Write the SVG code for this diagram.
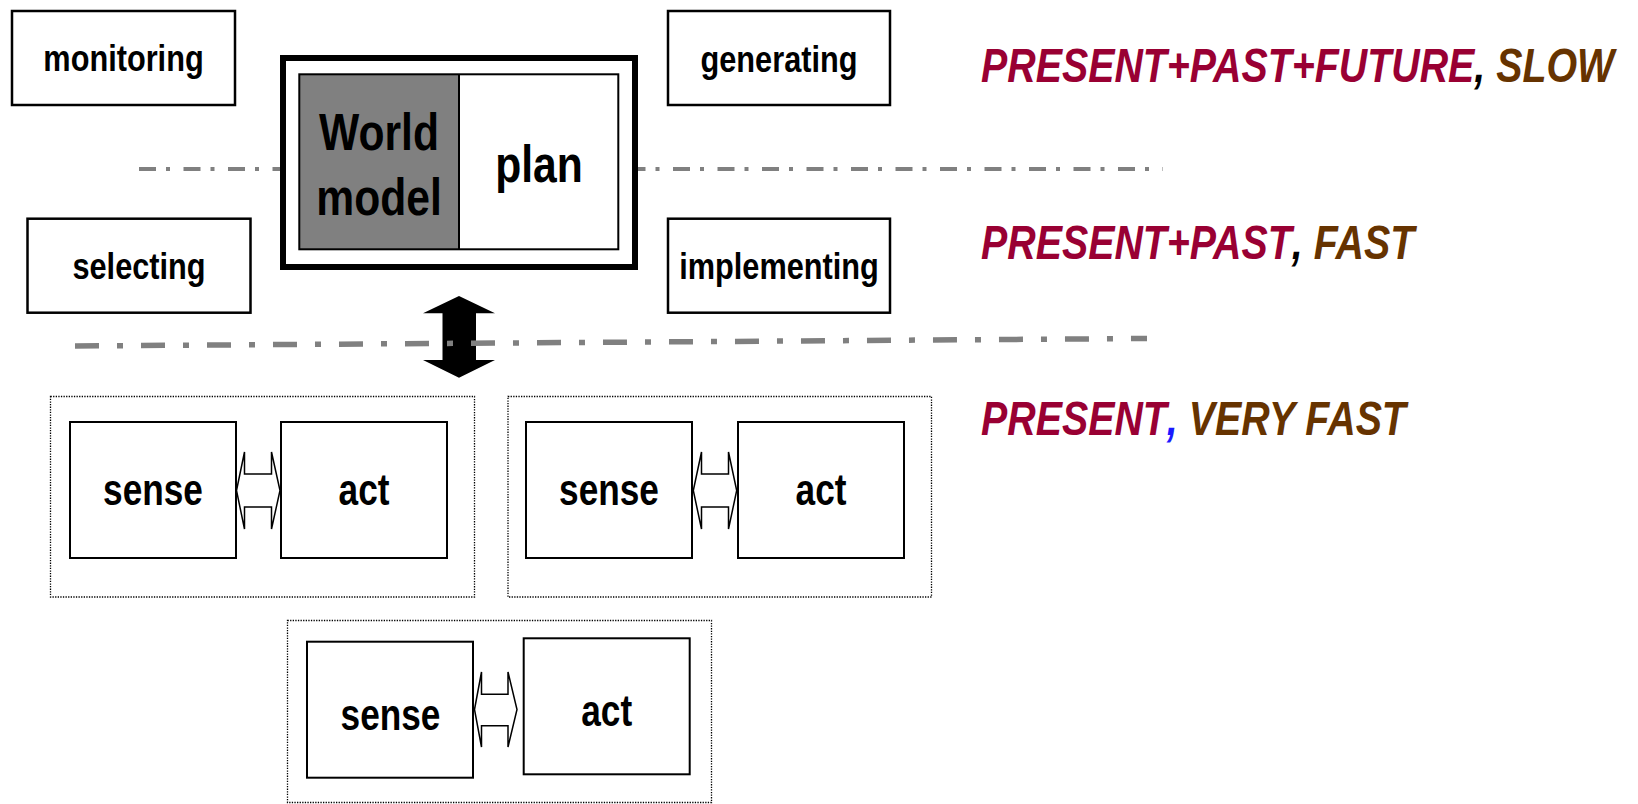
<svg xmlns="http://www.w3.org/2000/svg" width="1638" height="804" viewBox="0 0 1638 804">
  <style>
    .box { fill: #ffffff; stroke: #000000; stroke-width: 2.5; }
    .cell { fill: #ffffff; stroke: #000000; stroke-width: 2; }
    .group { fill: none; stroke: #000000; stroke-width: 1.3; stroke-dasharray: 1.3 1.3; }
    .sep1 { fill: none; stroke: #808080; stroke-width: 4; stroke-dasharray: 17 10 4 13.5; }
    .sep2 { fill: none; stroke: #808080; stroke-width: 5.5; stroke-dasharray: 24 18 6 18; }
    .hollow { fill: #ffffff; stroke: #000000; stroke-width: 1.5; stroke-linejoin: miter; }
    .lbl { font-family: "Liberation Sans", Arial, sans-serif; font-weight: bold; font-size: 37px; text-anchor: middle; fill: #000000; }
    .big { font-family: "Liberation Sans", Arial, sans-serif; font-weight: bold; font-size: 52px; text-anchor: middle; fill: #000000; }
    .sa { font-family: "Liberation Sans", Arial, sans-serif; font-weight: bold; font-size: 44px; text-anchor: middle; fill: #000000; }
    .tier { font-family: "Liberation Sans", Arial, sans-serif; font-weight: bold; font-style: italic; font-size: 48px; }
    .when { fill: #990033; }
    .speed { fill: #663300; }
  </style>

  <!-- upper separator, passes behind the world-model block -->
  <g id="separators-upper">
    <line class="sep1" x1="139" y1="169" x2="1163" y2="169"/>
  </g>

  <!-- deliberative layer -->
  <g id="node-monitoring">
    <rect class="box" x="12" y="11" width="223" height="94"/>
    <text class="lbl" transform="translate(123.5,71) scale(0.83,1)">monitoring</text>
  </g>
  <g id="node-generating">
    <rect class="box" x="668" y="11" width="222" height="94"/>
    <text class="lbl" transform="translate(779,71.5) scale(0.83,1)">generating</text>
  </g>
  <g id="node-selecting">
    <rect class="box" x="27.5" y="218.7" width="223" height="94"/>
    <text class="lbl" transform="translate(139,279) scale(0.83,1)">selecting</text>
  </g>
  <g id="node-implementing">
    <rect class="box" x="668" y="218.7" width="222" height="94"/>
    <text class="lbl" transform="translate(779,279) scale(0.83,1)">implementing</text>
  </g>

  <g id="node-world">
    <rect x="283" y="58" width="352" height="209" fill="#ffffff" stroke="#000000" stroke-width="6"/>
    <rect x="299.3" y="74.3" width="159.7" height="175" fill="#808080"/>
    <rect x="299.3" y="74.3" width="319" height="175" fill="none" stroke="#000000" stroke-width="2"/>
    <line x1="459" y1="74.3" x2="459" y2="249.3" stroke="#000000" stroke-width="2"/>
    <text class="big" transform="translate(379,150) scale(0.82,1)">World</text>
    <text class="big" transform="translate(379,214.5) scale(0.82,1)">model</text>
    <text class="big" transform="translate(539,181.5) scale(0.82,1)">plan</text>
  </g>

  <!-- reactive layer: sense/act pairs -->
  <g id="node-pair-1">
    <rect class="group" x="50.5" y="396.5" width="424" height="200.5"/>
    <rect class="cell" x="70" y="422" width="166" height="136"/>
    <rect class="cell" x="281" y="422" width="166" height="136"/>
    <text class="sa" transform="translate(153,505) scale(0.8,1)">sense</text>
    <text class="sa" transform="translate(364,505) scale(0.8,1)">act</text>
  </g>
  <g id="node-pair-2">
    <rect class="group" x="508" y="396.5" width="423.5" height="200.5"/>
    <rect class="cell" x="526" y="422" width="166" height="136"/>
    <rect class="cell" x="738" y="422" width="166" height="136"/>
    <text class="sa" transform="translate(609,505) scale(0.8,1)">sense</text>
    <text class="sa" transform="translate(821,505) scale(0.8,1)">act</text>
  </g>
  <g id="node-pair-3">
    <rect class="group" x="287.5" y="620.5" width="424" height="182"/>
    <rect class="cell" x="307" y="641.7" width="166" height="136"/>
    <rect class="cell" x="523.7" y="638.3" width="166" height="136"/>
    <text class="sa" transform="translate(390.5,730) scale(0.8,1)">sense</text>
    <text class="sa" transform="translate(606.7,726) scale(0.8,1)">act</text>
  </g>

  <g id="connectors">
    <!-- two-way link between the deliberative and reactive layers -->
    <polygon fill="#000000" points="459,296 495,313.3 476,313.3 476,360 495,360 459,377.7 423,360 442.5,360 442.5,313.3 423,313.3"/>
    <!-- sense <-> act links -->
    <polygon class="hollow" points="236.5,490.5 244.5,452 244.5,474 271.5,474 271.5,452 280,490.5 271.5,529 271.5,507 244.5,507 244.5,529"/>
    <polygon class="hollow" points="693.3,490.5 701.5,452 701.5,474 728.5,474 728.5,452 736.7,490.5 728.5,529 728.5,507 701.5,507 701.5,529"/>
    <polygon class="hollow" points="474.5,709.5 481.5,672 481.5,694.3 508,694.3 508,672 517,709.5 508,747 508,725.7 481.5,725.7 481.5,747"/>
  </g>

  <!-- lower separator, drawn over the link arrow -->
  <g id="separators-lower">
    <line class="sep2" x1="75" y1="346" x2="1147" y2="338.5"/>
  </g>

  <!-- layer annotations -->
  <g id="tier-labels">
    <text class="tier" transform="translate(981,82) scale(0.82,1)"><tspan class="when">PRESENT+PAST+FUTURE</tspan><tspan fill="#000000">, </tspan><tspan class="speed">SLOW</tspan></text>
    <text class="tier" transform="translate(981,258.5) scale(0.82,1)"><tspan class="when">PRESENT+PAST</tspan><tspan fill="#000000">, </tspan><tspan class="speed">FAST</tspan></text>
    <text class="tier" transform="translate(981,434.5) scale(0.82,1)"><tspan class="when">PRESENT</tspan><tspan fill="#1a1aff">, </tspan><tspan class="speed">VERY FAST</tspan></text>
  </g>
</svg>
